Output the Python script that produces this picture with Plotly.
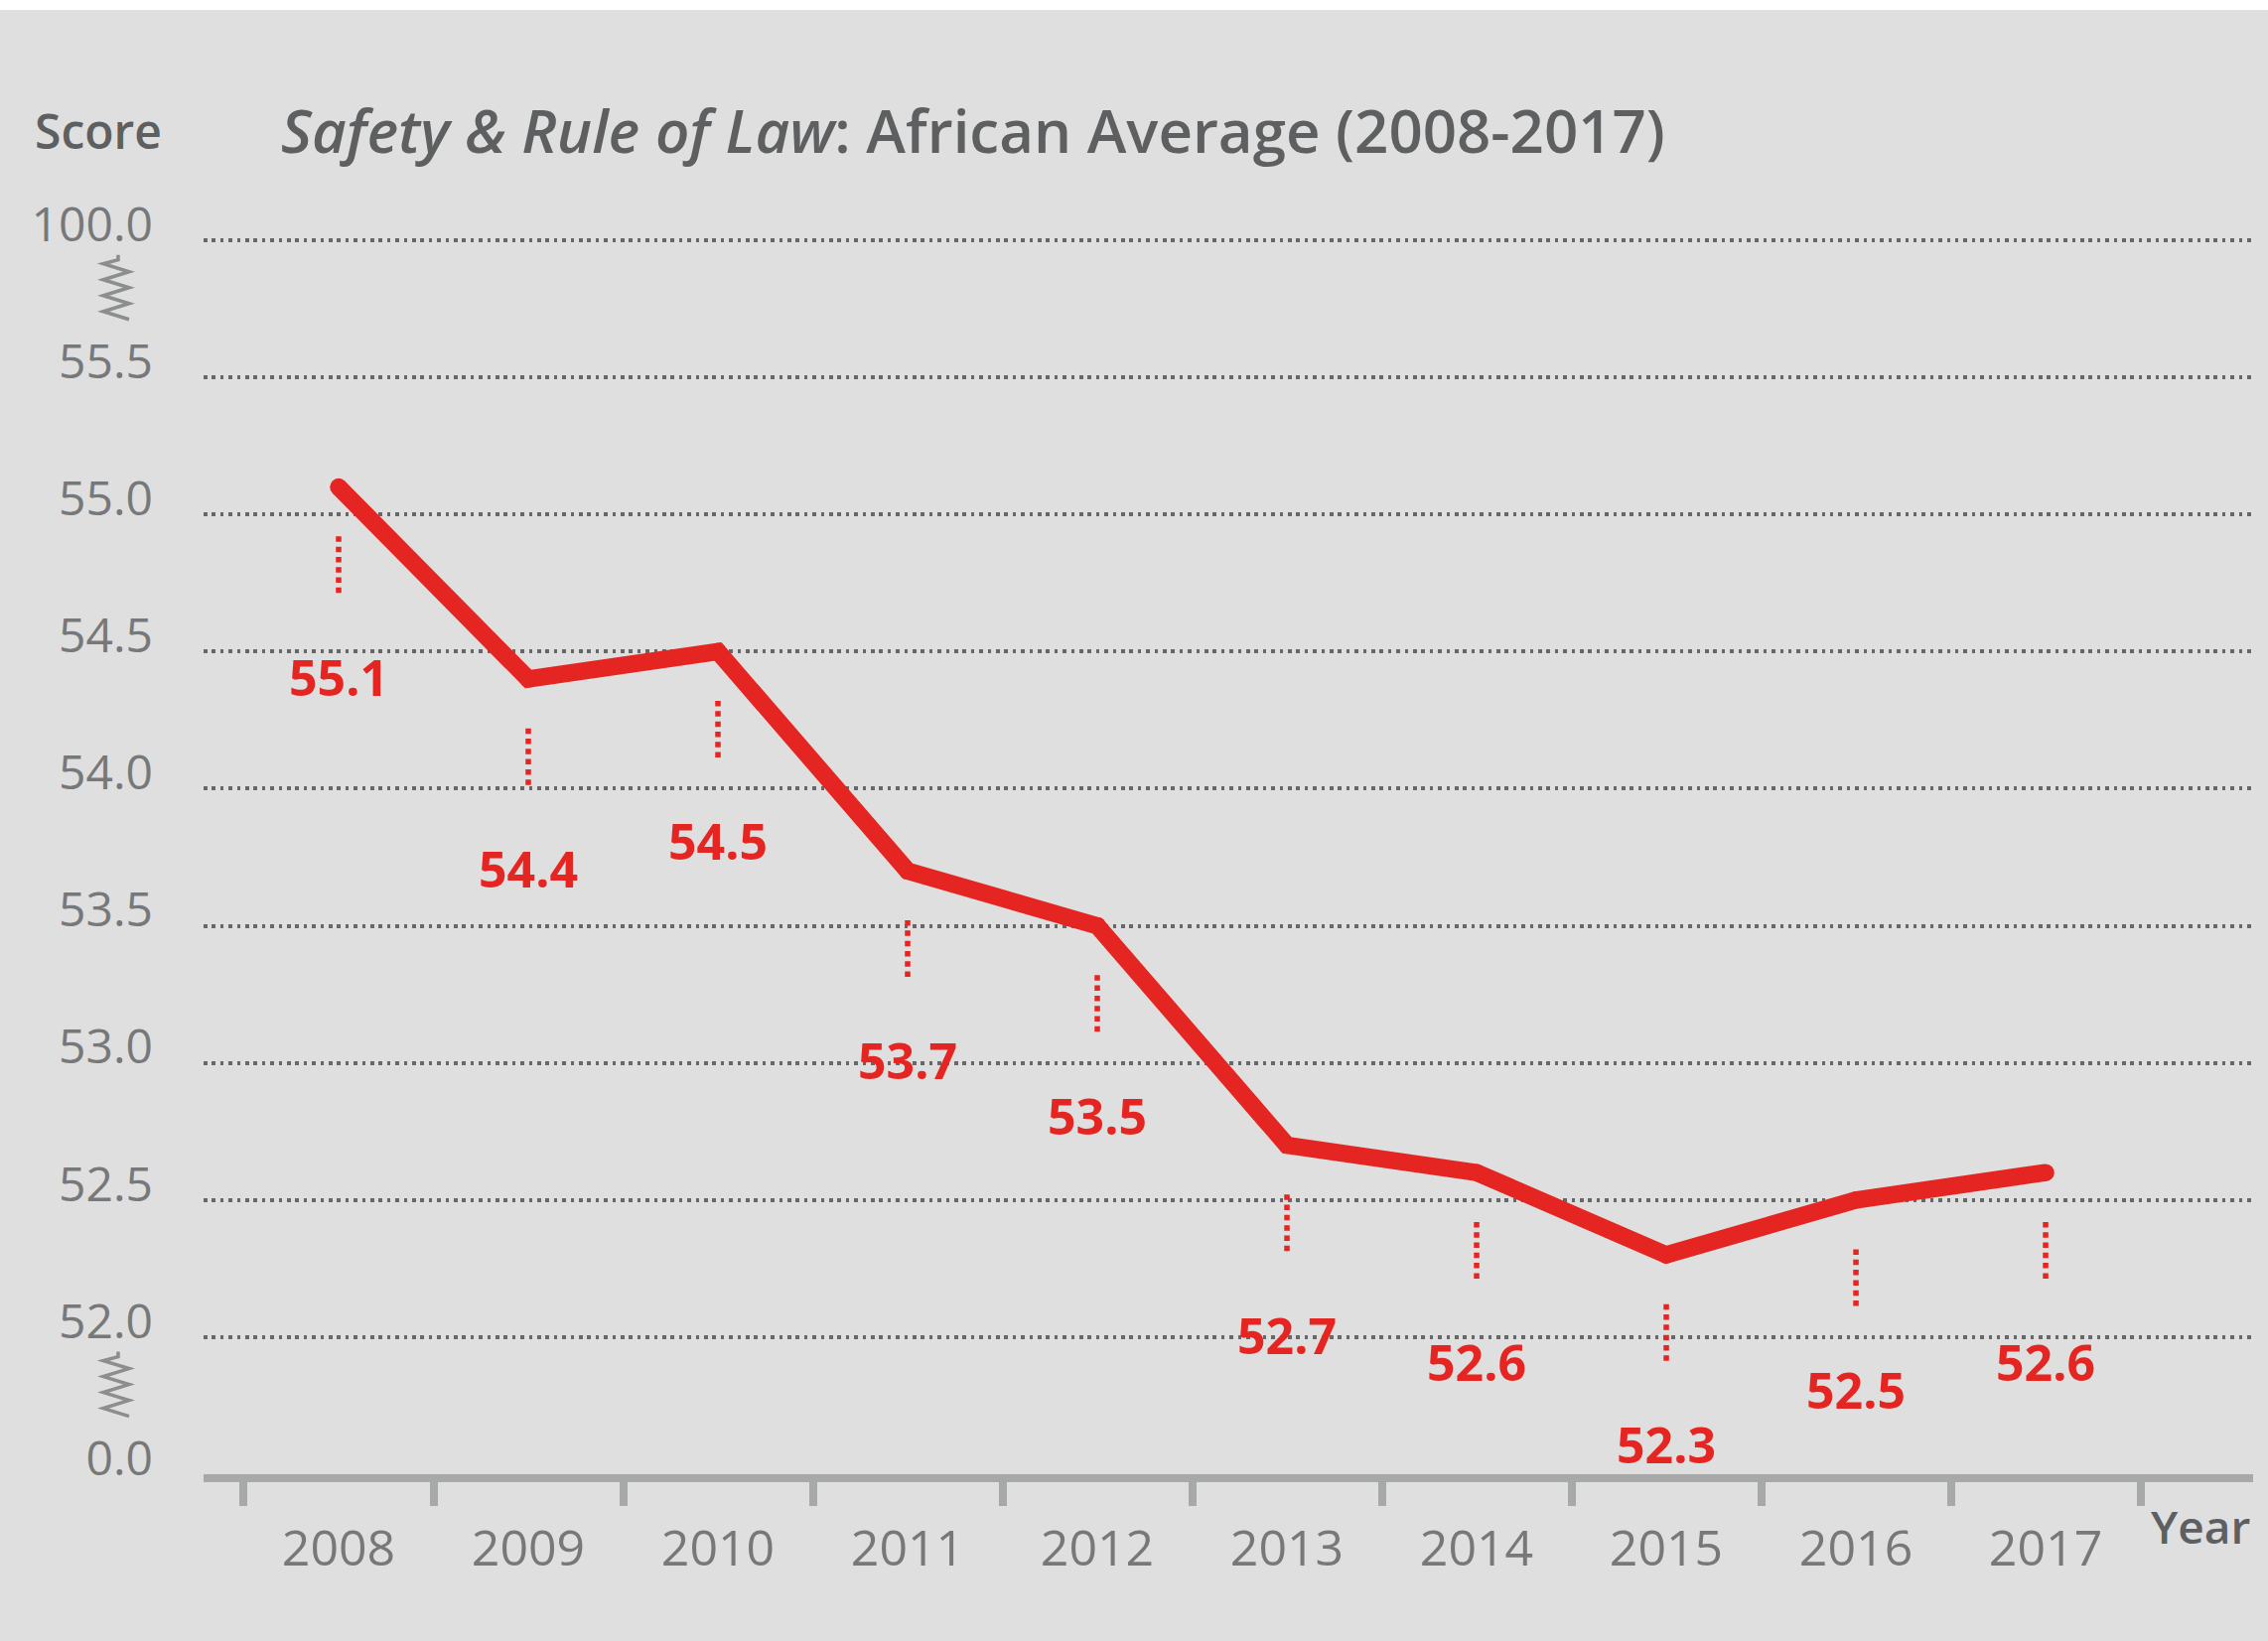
import plotly.graph_objects as go

# ---------------- data ----------------
years = ["2008", "2009", "2010", "2011", "2012", "2013", "2014", "2015", "2016", "2017"]
scores = [55.1, 54.4, 54.5, 53.7, 53.5, 52.7, 52.6, 52.3, 52.5, 52.6]
score_labels = ["55.1", "54.4", "54.5", "53.7", "53.5", "52.7", "52.6", "52.3", "52.5", "52.6"]
# broken axis: 0.0 drawn at 51.5 and 100.0 drawn at 56.0
y_tick_vals = [51.5, 52.0, 52.5, 53.0, 53.5, 54.0, 54.5, 55.0, 55.5, 56.0]
y_tick_text = ["0.0", "52.0", "52.5", "53.0", "53.5", "54.0", "54.5", "55.0", "55.5", "100.0"]
break_below = [56.0, 52.0]  # axis breaks sit just below these ticks

# ---------------- styling ----------------
W, H = 2284, 1653
PX_PER_UNIT = 275.8
TOP_PAD = 8  # pixels of plot area above the 100.0 gridline
ML, MR, MT, MB = 205, 15, 242 - TOP_PAD, 168
PW, PH = W - ML - MR, H - MT - MB
Y_TOP = 56.0 + TOP_PAD / PX_PER_UNIT
BG = "#dedfde"
RED = "#e52521"
DARK = "#5d5f60"
TICK = "#77787a"
AXIS = "#a7a9a9"
FONT = "Open Sans"

x_idx = list(range(len(years)))

fig = go.Figure()

# dotted leader lines between points and their value labels
lx, ly = [], []
for i, v in zip(x_idx, scores):
    lx += [i, i, None]
    ly += [v - 0.18, v - 0.40, None]
fig.add_trace(go.Scatter(x=lx, y=ly, mode="lines",
                         line=dict(color=RED, width=5.5, dash="5.5px,4.8px"),
                         hoverinfo="skip", showlegend=False))

# main line
fig.add_trace(go.Scatter(x=x_idx, y=scores, mode="lines+markers",
                         line=dict(color=RED, width=17.5),
                         marker=dict(size=17.5, color=RED),
                         showlegend=False))

# value labels
for i, v, t in zip(x_idx, scores, score_labels):
    fig.add_annotation(x=i, y=v, text=t, showarrow=False, yshift=-191,
                       xanchor="center", yanchor="middle",
                       font=dict(family=FONT, size=50, color=RED, weight=700))

# axis-break zigzags
zz = [(2, 35), (2, 30), (-13, 26), (13, 18), (-13, 10), (13, 2), (-13, -6), (13, -14), (-13, -22), (13, -30)]
cx = -88
path = "M " + " L ".join(f"{cx + px},{py}" for px, py in zz)
for b in break_below:
    fig.add_shape(type="path", path=path, xref="paper", yref="y",
                  xsizemode="pixel", ysizemode="pixel", xanchor=0, yanchor=b - 0.18,
                  line=dict(color="#8b8d8e", width=3.5), layer="above")

# white strip at the very top
fig.add_shape(type="rect", xref="paper", yref="paper", x0=-0.2, x1=1.2,
              ysizemode="pixel", yanchor=1, y0=MT - 10, y1=MT + 20,
              line=dict(width=0), fillcolor="white", layer="above")

# titles
fig.add_annotation(xref="paper", yref="paper", x=(281 - ML) / PW, y=1 + (MT - 131) / PH,
                   xanchor="left", yanchor="middle", showarrow=False,
                   text="<i>Safety &amp; Rule of Law</i>: African Average (2008-2017)",
                   font=dict(family=FONT, size=60, color=DARK, weight=600))
fig.add_annotation(xref="paper", yref="paper", x=(33 - ML) / PW, y=1 + (MT - 131) / PH,
                   xanchor="left", yanchor="middle", showarrow=False,
                   text="Score", font=dict(family=FONT, size=48, color=DARK, weight=600))
fig.add_annotation(xref="paper", yref="paper", x=(2268 - ML) / PW, y=-(1537 - (H - MB)) / PH,
                   xanchor="right", yanchor="middle", showarrow=False,
                   text="Year", font=dict(family=FONT, size=46, color=DARK, weight=600))

fig.update_layout(
    width=W, height=H,
    margin=dict(l=ML, r=MR, t=MT, b=MB, pad=0),
    paper_bgcolor=BG, plot_bgcolor=BG,
    showlegend=False,
    xaxis=dict(range=[-0.712, 10.094], tickmode="array", tickvals=x_idx, ticktext=years,
               ticks="", showgrid=False, zeroline=False,
               showline=True, linecolor=AXIS, linewidth=8,
               ticklabelstandoff=24,
               tickfont=dict(family=FONT, size=50, color=TICK),
               minor=dict(tickmode="array", tickvals=[i - 0.5 for i in range(len(years) + 1)],
                          ticks="outside", ticklen=24, tickwidth=8, tickcolor=AXIS, showgrid=False)),
    yaxis=dict(range=[51.5, Y_TOP], tickmode="array", tickvals=y_tick_vals, ticktext=y_tick_text,
               ticks="", showgrid=True, gridcolor="#666768", gridwidth=3.5, griddash="3.5px,4.9px",
               zeroline=False, showline=False,
               ticklabelstandoff=50, ticklabelshift=-16,
               tickfont=dict(family=FONT, size=48, color=TICK)),
)

fig.write_html("out.html", config={"displayModeBar": False},
               post_script="document.body.style.margin='0';")
